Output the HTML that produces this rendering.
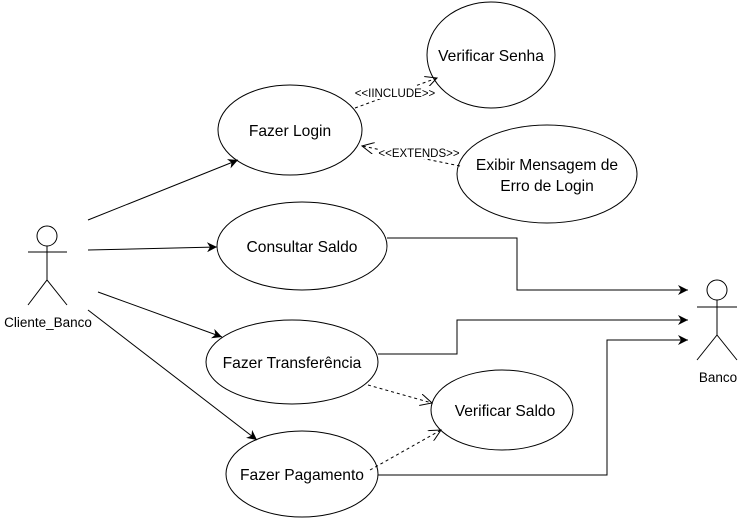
<!DOCTYPE html>
<html><head><meta charset="utf-8"><style>
html,body{margin:0;padding:0;background:#fff;}
svg{display:block;font-family:"Liberation Sans",Arial,sans-serif;}
</style></head><body>
<svg width="739" height="521" viewBox="0 0 739 521" xmlns="http://www.w3.org/2000/svg">
<defs>
<marker id="a" markerWidth="12" markerHeight="10" refX="10" refY="5" orient="auto" markerUnits="userSpaceOnUse">
<path d="M0,0 L10,5 L0,10 L3,5 Z" fill="#000"/></marker>
<marker id="o" markerWidth="14" markerHeight="12" refX="12" refY="6" orient="auto" markerUnits="userSpaceOnUse">
<path d="M0,0 L12,6 L0,12" fill="none" stroke="#000" stroke-width="1"/></marker>
</defs>
<g fill="#fff" stroke="#000" stroke-width="1">
<ellipse cx="491" cy="55" rx="64" ry="53"/>
<ellipse cx="290" cy="130" rx="72" ry="45"/>
<ellipse cx="547" cy="174" rx="90" ry="49"/>
<ellipse cx="302" cy="246" rx="85" ry="44"/>
<ellipse cx="292" cy="362" rx="86" ry="42"/>
<ellipse cx="502" cy="410" rx="71" ry="40"/>
<ellipse cx="302" cy="474" rx="76" ry="43"/>
</g>
<g fill="none" stroke="#000" stroke-width="1">
<line x1="88" y1="220" x2="238" y2="160" marker-end="url(#a)"/>
<line x1="88" y1="250" x2="217" y2="247" marker-end="url(#a)"/>
<line x1="98" y1="292" x2="222" y2="337" marker-end="url(#a)"/>
<line x1="88" y1="310" x2="257" y2="440" marker-end="url(#a)"/>
<polyline points="387,238 517,238 517,290 688,290" marker-end="url(#a)"/>
<polyline points="378,354 457,354 457,320 688,320" marker-end="url(#a)"/>
<polyline points="378,475 607,475 607,340 688,340" marker-end="url(#a)"/>
<g stroke-dasharray="3,3">
<line x1="355" y1="108" x2="437" y2="78" marker-end="url(#o)"/>
<line x1="460" y1="166" x2="362" y2="146" marker-end="url(#o)"/>
<line x1="368" y1="385" x2="432" y2="403" marker-end="url(#o)"/>
<line x1="370" y1="470" x2="441" y2="430" marker-end="url(#o)"/>
</g>
<circle cx="47" cy="236" r="10"/>
<line x1="47" y1="246" x2="47" y2="280"/>
<line x1="28" y1="252" x2="67" y2="252"/>
<polyline points="28,305 47,280 67,305"/>
<circle cx="717" cy="290" r="10"/>
<line x1="717" y1="300" x2="717" y2="335"/>
<line x1="697" y1="307" x2="737" y2="307"/>
<polyline points="697,360 717,335 737,360"/>
</g>
<g font-size="15.6" text-anchor="middle" fill="#000">
<text x="491" y="61">Verificar Senha</text>
<text x="290" y="136">Fazer Login</text>
<text x="547" y="170">Exibir Mensagem de</text>
<text x="547" y="191">Erro de Login</text>
<text x="302" y="252">Consultar Saldo</text>
<text x="292" y="368">Fazer Transferência</text>
<text x="505" y="416">Verificar Saldo</text>
<text x="302" y="480">Fazer Pagamento</text>
<text x="48" y="327" font-size="13.5">Cliente_Banco</text>
<text x="718" y="382" font-size="13.5">Banco</text>
</g>
<g font-size="11.5" text-anchor="middle" fill="#000">
<rect x="352" y="86" width="86" height="13" fill="#fff"/>
<text x="395" y="97">&lt;&lt;IINCLUDE&gt;&gt;</text>
<rect x="378" y="146" width="82" height="13" fill="#fff"/>
<text x="419" y="157">&lt;&lt;EXTENDS&gt;&gt;</text>
</g>
</svg>
</body></html>
